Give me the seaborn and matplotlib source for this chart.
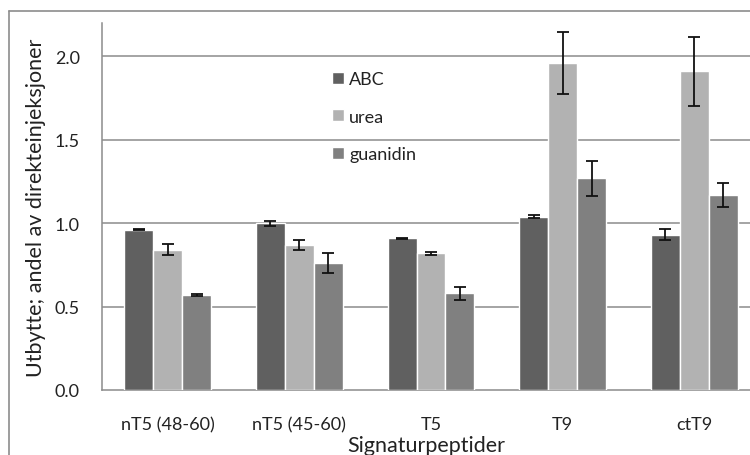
import matplotlib
matplotlib.use("Agg")
import matplotlib.pyplot as plt
from matplotlib.lines import Line2D
import numpy as np
import pandas as pd
import seaborn as sns

categories = ["nT5 (48-60)", "nT5 (45-60)", "T5", "T9", "ctT9"]
series = ["ABC", "urea", "guanidin"]
abc = [0.96, 1.00, 0.91, 1.04, 0.93]
urea = [0.84, 0.87, 0.82, 1.96, 1.91]
guanidin = [0.57, 0.76, 0.58, 1.27, 1.17]
abc_err = [0.003, 0.015, 0.003, 0.008, 0.033]
urea_err = [0.033, 0.028, 0.010, 0.184, 0.207]
guanidin_err = [0.005, 0.061, 0.039, 0.105, 0.072]
yticks = [0.0, 0.5, 1.0, 1.5, 2.0]

colors = ["#606060", "#b2b2b2", "#808080"]

df = pd.DataFrame({
    "peptid": categories * 3,
    "metode": sum([[s] * len(categories) for s in series], []),
    "utbytte": abc + urea + guanidin,
    "feil": abc_err + urea_err + guanidin_err,
})

sns.set_style("white")
plt.rcParams["font.family"] = ["Lato", "DejaVu Sans"]

W, H = 750, 456
x0, cat_w = 102, 131.6          # plot left edge and width of one category, px
fig = plt.figure(figsize=(W / 100, H / 100), dpi=100)
ax = fig.add_axes([x0 / W, 65 / H, (W - x0) / W, 367 / H])

sns.barplot(data=df, x="peptid", y="utbytte", hue="metode", order=categories,
            hue_order=series, palette=colors, width=0.66, gap=0,
            errorbar=None, saturation=1, ax=ax, zorder=3)

# error bars on top of each bar
errs = {s: df[df.metode == s]["feil"].to_numpy() for s in series}
for cont, s in zip(ax.containers, series):
    xs = [p.get_x() + p.get_width() / 2 for p in cont.patches]
    ys = [p.get_height() for p in cont.patches]
    ax.errorbar(xs, ys, yerr=errs[s], fmt="none", ecolor="#111111",
                elinewidth=1.3, capsize=4, capthick=1.3, zorder=4)

# the last category is cut short by the right edge of the figure
ax.set_xlim(-0.5, -0.5 + (W - x0) / cat_w)
ax.set_ylim(0, 2.2)
ax.set_yticks(yticks)
ax.set_yticklabels([f"{v:.1f}" for v in yticks], fontsize=13, color="#222222")
ax.set_xticks(range(len(categories)))
ax.set_xticklabels(categories, fontsize=13, color="#222222")
ax.set_xticks(np.arange(-0.5, len(categories) - 1, 1.0), minor=True)
ax.tick_params(axis="x", which="major", length=0, pad=19)
ax.tick_params(axis="x", which="minor", length=6, color="#888888", width=1)
ax.tick_params(axis="y", length=7, color="#888888", width=1, pad=9)

for v in yticks[1:]:
    ax.axhline(v, color="#8c8c8c", lw=1.1, zorder=1)

for side in ["top", "right"]:
    ax.spines[side].set_visible(False)
for side in ["left", "bottom"]:
    ax.spines[side].set_color("#8c8c8c")
    ax.spines[side].set_linewidth(1.1)

ax.set_xlabel("Signaturpeptider", fontsize=15.5, color="#222222", labelpad=2)
ax.set_ylabel("Utbytte; andel av direkteinjeksjoner", fontsize=15.5,
              color="#222222", labelpad=6)

leg = ax.legend(loc="upper left", bbox_to_anchor=(332 / W, 1 - 72 / H),
                bbox_transform=fig.transFigure, frameon=False, fontsize=13,
                handlelength=0.65, handleheight=0.65, handletextpad=0.3,
                labelspacing=1.2, borderaxespad=0, borderpad=0)
for t in leg.get_texts():
    t.set_color("#222222")

# chart area border (left and top edges)
bx, by = 9 / W, 1 - 12 / H
fig.add_artist(Line2D([bx, bx], [0, by], transform=fig.transFigure,
                      color="#8c8c8c", lw=1.2))
fig.add_artist(Line2D([bx, 1], [by, by], transform=fig.transFigure,
                      color="#8c8c8c", lw=1.2))

fig.savefig("out.png", dpi=100)
